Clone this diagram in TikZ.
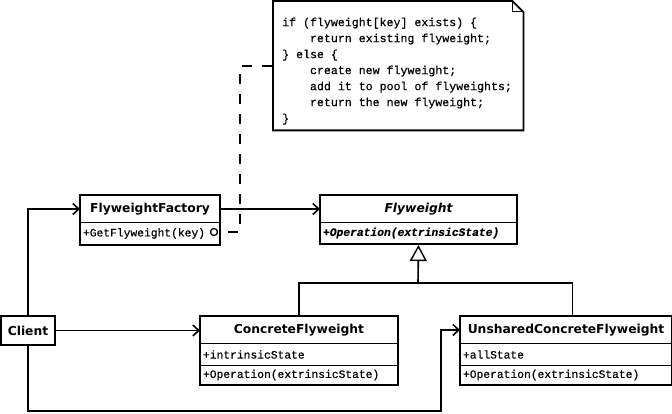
\documentclass[tikz,border=0pt]{standalone}
\usepackage{fontspec}
\setmainfont{DejaVu Sans}
\newfontfamily\monofnt[FakeBold=0.4]{Liberation Mono}
\usetikzlibrary{arrows.meta}
\tikzset{
  namecell/.style={anchor=north west, inner sep=0pt, draw, line width=1pt, font=\fontsize{12.3}{14}\selectfont\bfseries},
  membercell/.style 2 args={anchor=north west, inner xsep=2.5pt, inner ysep=0pt, draw, line width=1pt, align=left, text width=#1, minimum height=#2, font=\monofnt\fontsize{11.3}{13}\selectfont},
  frame/.style={line width=1.8pt},
  conn/.style={line width=1.6pt, -{Straight Barb[length=6pt,width=11pt,line width=1.6pt]}},
  plainline/.style={line width=1.6pt},
  dashline/.style={line width=1.8pt, dash pattern=on 10pt off 10pt},
  inherit/.style={line width=1.6pt, shorten >=1pt, -{Triangle[open, length=16pt, width=17pt, line width=1.4pt, fill=white]}},
  notetextstyle/.style={anchor=north west, inner sep=0pt, align=left, font=\monofnt\fontsize{11.6}{16}\selectfont},
}
\begin{document}
\begin{tikzpicture}[x=1pt,y=-1pt]
\useasboundingbox (0,0) rectangle (672,414);
% note
\node[anchor=north west, minimum width=250pt, minimum height=129pt, inner sep=0pt] (note) at (273,1) {};
\draw[frame] (note.north west) -- ([xshift=-11pt]note.north east) -- ([yshift=-11pt]note.north east) -- (note.south east) -- (note.south west) -- cycle;
\draw[line width=1pt] ([xshift=-11pt]note.north east) |- ([yshift=-11pt]note.north east);
\node[notetextstyle] (notetext) at (282,17.5) {if (flyweight[key] exists) \{\\
\phantom{xxxx}return existing flyweight;\\
\} else \{\\
\phantom{xxxx}create new flyweight;\\
\phantom{xxxx}add it to pool of flyweights;\\
\phantom{xxxx}return the new flyweight;\\
\}};
% FlyweightFactory
\node[namecell, minimum width=139pt, minimum height=27pt] (fac) at (80,195) {FlyweightFactory};
\node[membercell={134pt}{22pt}] (facm) at (80,222) {+GetFlyweight(key)};
\draw[frame] (fac.north west) rectangle (facm.south east);
% Flyweight
\node[namecell, minimum width=196pt, minimum height=27pt] (fly) at (320,195) {\itshape Flyweight};
\node[membercell={191pt}{21pt}] (flym) at (320,222) {\bfseries\itshape +Operation(extrinsicState)};
\draw[frame] (fly.north west) rectangle (flym.south east);
% Client
\node[namecell, minimum width=53pt, minimum height=28pt] (client) at (1,316) {Client};
\draw[frame] (client.north west) rectangle (client.south east);
% ConcreteFlyweight
\node[namecell, minimum width=197pt, minimum height=27pt] (conc) at (200,316) {ConcreteFlyweight};
\node[membercell={192pt}{22pt}] (concm1) at (200,343) {+intrinsicState};
\node[membercell={192pt}{19pt}] (concm2) at (200,365) {+Operation(extrinsicState)};
\draw[frame] (conc.north west) rectangle (concm2.south east);
% UnsharedConcreteFlyweight
\node[namecell, minimum width=211pt, minimum height=27pt] (uns) at (460,316) {UnsharedConcreteFlyweight};
\node[membercell={206pt}{22pt}] (unsm1) at (460,343) {+allState};
\node[membercell={206pt}{19pt}] (unsm2) at (460,365) {+Operation(extrinsicState)};
\draw[frame] (uns.north west) rectangle (unsm2.south east);
% connectors
\draw[conn] (client.north) |- (fac.west);
\draw[conn] (fac.east) -- (fly.west);
\draw[conn] (client.east) -- (client.east -| conc.west);
\coordinate (bottomturn) at (441,411);
\draw[conn] (client.south) |- (bottomturn) |- (uns.west);
\coordinate (junc) at (418,283);
\coordinate (unstop) at ([xshift=6.5pt]uns.north);
\draw[plainline] (conc.north) |- (junc) -| (unstop);
\draw[inherit] (junc) -- (flym.south);
% dashed note link
\coordinate (bend) at (240,232);
\node[circle, draw, line width=1.3pt, fill=white, minimum size=7pt, inner sep=0pt] (lolli) at (214,232) {};
\draw[dashline, dash phase=10pt] (lolli.east) -- (bend) |- (note.west);
\end{tikzpicture}
\end{document}
